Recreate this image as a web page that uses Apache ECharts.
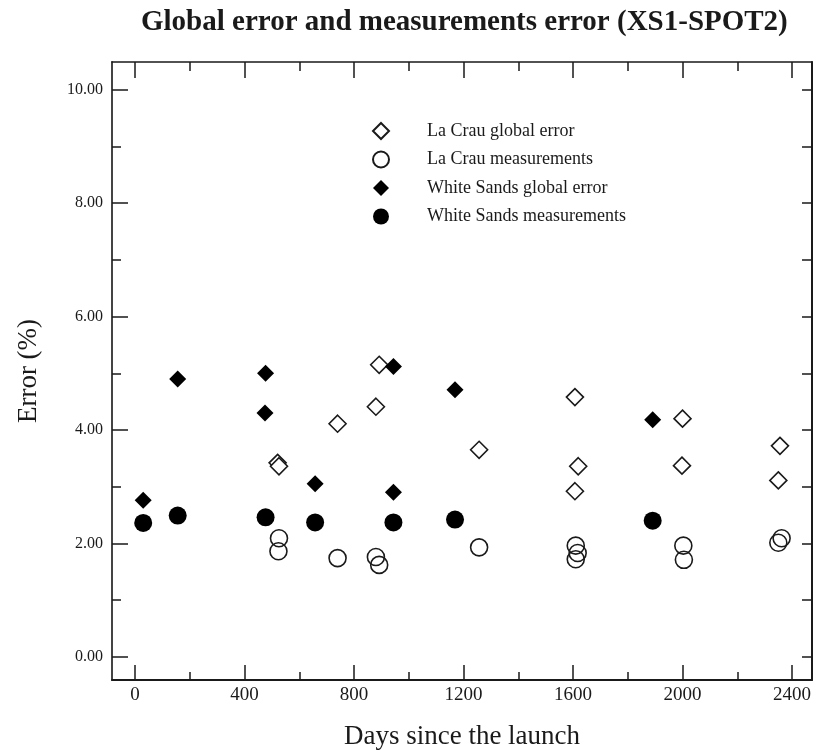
<!DOCTYPE html>
<html>
<head>
<meta charset="utf-8">
<script src="https://cdn.jsdelivr.net/npm/echarts@6/dist/echarts.min.js"></script>
<style>
html,body{margin:0;padding:0;background:#fff;}
#chart{width:816px;height:756px;}
</style>
</head>
<body>
<div id="chart"></div>
<script>
// Data (days since launch, error %)
var laCrauGlobal = [
  [521, 3.42], [526, 3.36], [740, 4.11], [880, 4.41], [892, 5.15],
  [1257, 3.65], [1607, 4.58], [1619, 3.36], [1607, 2.92],
  [2000, 4.20], [1998, 3.37], [2356, 3.72], [2350, 3.11]
];
var laCrauMeas = [
  [526, 2.09], [524, 1.86], [740, 1.74], [880, 1.76], [892, 1.62],
  [1257, 1.93], [1610, 1.96], [1617, 1.83], [1610, 1.72],
  [2003, 1.96], [2005, 1.71], [2362, 2.09], [2350, 2.01]
];
var whiteSandsGlobal = [
  [30, 2.76], [156, 4.90], [477, 5.00], [475, 4.30], [658, 3.05],
  [944, 5.12], [944, 2.90], [1169, 4.71], [1891, 4.18]
];
var whiteSandsMeas = [
  [30, 2.36], [156, 2.49], [477, 2.46], [658, 2.37], [944, 2.37],
  [1169, 2.42], [1891, 2.40]
];
var xMajorTicks = [0, 400, 800, 1200, 1600, 2000, 2400];
var xMinorTicks = [200, 600, 1000, 1400, 1800, 2200];
var yMajorTicks = [0, 2, 4, 6, 8, 10];
var yMinorTicks = [1, 3, 5, 7, 9];
var yAllTicks = [0, 1, 2, 3, 4, 5, 6, 7, 8, 9, 10];

var FONT = '"Liberation Serif", "Times New Roman", serif';
var INK = '#1a1a1a';
var X_MIN = -84, X_MAX = 2473, Y_MIN = -0.41, Y_MAX = 10.49;

function xAx(opts) {
  return Object.assign({
    type: 'value', min: X_MIN, max: X_MAX, gridIndex: 0,
    splitLine: { show: false },
    axisLine: { show: false, onZero: false },
    axisLabel: { show: false },
    axisTick: { show: false }
  }, opts);
}
function yAx(opts) {
  return Object.assign({
    type: 'value', min: Y_MIN, max: Y_MAX, gridIndex: 0,
    splitLine: { show: false },
    axisLine: { show: false, onZero: false },
    axisLabel: { show: false },
    axisTick: { show: false }
  }, opts);
}

var chart = echarts.init(document.getElementById('chart'), null, { renderer: 'canvas' });
chart.setOption({
  backgroundColor: '#ffffff',
  animation: false,
  title: {
    text: 'Global error and measurements error (XS1-SPOT2)',
    left: 136, top: 3,
    textStyle: { fontFamily: FONT, fontSize: 29, fontWeight: 'bold', color: INK }
  },
  grid: { left: 112, right: 4, top: 62, bottom: 76, containLabel: false, outerBoundsMode: 'none' },
  legend: {
    orient: 'vertical', left: 367, top: 117,
    itemWidth: 16, itemHeight: 16, itemGap: 10.5,
    data: ['La Crau global error', 'La Crau measurements', 'White Sands global error', 'White Sands measurements'],
    textStyle: { fontFamily: FONT, fontSize: 18, color: INK, padding: [0, 0, 0, 33] }
  },
  xAxis: [
    xAx({
      position: 'bottom',
      axisLine: { show: true, onZero: false, lineStyle: { color: INK, width: 2 } },
      axisTick: { show: true, inside: true, length: 15, customValues: xMajorTicks, lineStyle: { color: INK, width: 1.5 } },
      axisLabel: { show: true, customValues: xMajorTicks, fontFamily: FONT, fontSize: 19, color: INK, margin: 6,
        formatter: function (v) { return String(v); } },
      name: 'Days since the launch', nameLocation: 'middle', nameGap: 43,
      nameTextStyle: { fontFamily: FONT, fontSize: 27, color: INK }
    }),
    xAx({
      position: 'bottom',
      axisTick: { show: true, inside: true, length: 8, customValues: xMinorTicks, lineStyle: { color: INK, width: 1.5 } }
    }),
    xAx({
      position: 'top',
      axisLine: { show: true, onZero: false, lineStyle: { color: INK, width: 1.5 } },
      axisTick: { show: true, inside: true, length: 16, customValues: xMajorTicks, lineStyle: { color: INK, width: 1.5 } }
    }),
    xAx({
      position: 'top',
      axisTick: { show: true, inside: true, length: 9, customValues: xMinorTicks, lineStyle: { color: INK, width: 1.5 } }
    })
  ],
  yAxis: [
    yAx({
      position: 'left',
      axisLine: { show: true, onZero: false, lineStyle: { color: '#444', width: 2 } },
      axisTick: { show: true, inside: true, length: 16, customValues: yMajorTicks, lineStyle: { color: INK, width: 1.5 } },
      axisLabel: { show: true, customValues: yMajorTicks, fontFamily: FONT, fontSize: 16, color: INK, margin: 9,
        formatter: function (v) { return Number(v).toFixed(2); } },
      name: 'Error (%)', nameLocation: 'middle', nameGap: 70,
      nameTextStyle: { fontFamily: FONT, fontSize: 27, color: INK }
    }),
    yAx({
      position: 'left',
      axisTick: { show: true, inside: true, length: 9, customValues: yMinorTicks, lineStyle: { color: INK, width: 1.5 } }
    }),
    yAx({
      position: 'right',
      axisLine: { show: true, onZero: false, lineStyle: { color: INK, width: 2 } },
      axisTick: { show: true, inside: true, length: 10, customValues: yAllTicks, lineStyle: { color: INK, width: 1.5 } }
    })
  ],
  series: [
    {
      name: 'La Crau global error', type: 'scatter', xAxisIndex: 0, yAxisIndex: 0,
      symbol: 'diamond', symbolSize: 17, data: laCrauGlobal,
      itemStyle: { color: '#ffffff', borderColor: INK, borderWidth: 1.6, opacity: 1 }
    },
    {
      name: 'La Crau measurements', type: 'scatter', xAxisIndex: 0, yAxisIndex: 0,
      symbol: 'circle', symbolSize: 17, data: laCrauMeas,
      itemStyle: { color: 'rgba(255,255,255,0)', borderColor: INK, borderWidth: 1.6, opacity: 1 }
    },
    {
      name: 'White Sands global error', type: 'scatter', xAxisIndex: 0, yAxisIndex: 0,
      symbol: 'diamond', symbolSize: 17, data: whiteSandsGlobal,
      itemStyle: { color: '#000000', opacity: 1 }
    },
    {
      name: 'White Sands measurements', type: 'scatter', xAxisIndex: 0, yAxisIndex: 0,
      symbol: 'circle', symbolSize: 18, data: whiteSandsMeas,
      itemStyle: { color: '#000000', opacity: 1 }
    }
  ]
});
</script>
</body>
</html>
